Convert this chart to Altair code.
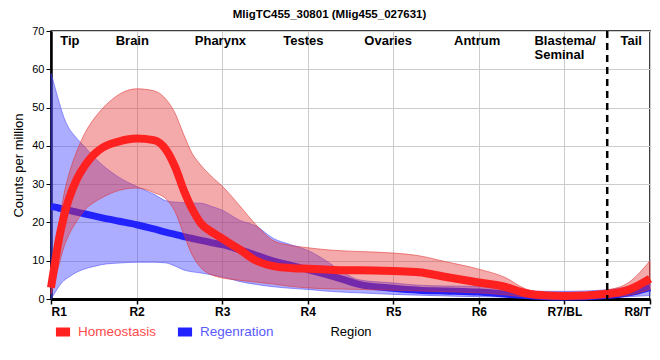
import json
import altair as alt
import pandas as pd

chart_title = "MligTC455_30801 (Mlig455_027631)"
region_ticks = [1, 2, 3, 4, 5, 6, 7, 8]
region_tick_labels = ["R1", "R2", "R3", "R4", "R5", "R6", "R7/BL", "R8/T"]
y_ticks = [0, 10, 20, 30, 40, 50, 60, 70]
section_names = ["Tip", "Brain", "Pharynx", "Testes", "Ovaries", "Antrum", "Tail"]
section_x = [1.22, 1.95, 2.98, 3.95, 4.94, 5.98, 7.78]
blastema_text = ["Blastema/\nSeminal"]
blastema_x = [6.65]
boundary_x = [7.5]
series_names = ["Homeostasis", "Regenration"]

x = [1.0, 1.05, 1.1, 1.15, 1.2, 1.3, 1.4, 1.5, 1.6, 1.8, 2.0, 2.2, 2.35, 2.45, 2.55,
     2.65, 2.75, 2.9, 3.0, 3.2, 3.4, 3.6, 3.8, 4.0, 4.2, 4.4, 4.6, 5.0, 5.3, 5.6,
     6.0, 6.3, 6.55, 6.8, 7.0, 7.5, 7.75, 8.0]

homeo_mid = [3.0, 10.0, 16.5, 21.5, 25.5, 31.2, 35.0, 37.7, 39.5, 41.2, 41.9, 41.5, 38.8, 34.5, 28.5,
             23.5, 19.8, 17.2, 15.8, 13.0, 10.0, 8.6, 8.1, 7.9, 7.7, 7.5, 7.5, 7.3, 7.0, 5.8,
             4.3, 3.2, 1.5, 0.9, 0.8, 1.3, 2.4, 5.3]
homeo_hi = [4.0, 12.0, 20.5, 27.2, 31.8, 38.5, 43.5, 47.0, 49.7, 53.5, 54.9, 54.4, 52.0, 48.5, 43.0,
            38.0, 35.0, 31.5, 29.5, 24.5, 19.3, 15.2, 14.0, 13.4, 12.9, 12.6, 12.4, 12.0, 11.3, 9.8,
            7.8, 5.7, 2.6, 1.6, 1.5, 2.4, 4.3, 10.0]
homeo_lo = [1.3, 5.0, 9.5, 13.5, 16.3, 20.3, 23.4, 25.2, 26.5, 28.4, 29.0, 27.8, 26.0, 22.8, 17.0,
            11.5, 8.2, 6.1, 5.5, 4.9, 4.4, 3.9, 3.3, 2.9, 2.7, 2.6, 2.5, 2.3, 2.1, 1.9,
            1.6, 1.1, 0.5, 0.3, 0.3, 0.5, 1.0, 2.5]

regen_mid = [24.2, 24.0, 23.7, 23.5, 23.2, 22.7, 22.2, 21.7, 21.2, 20.3, 19.4, 18.3, 17.4, 16.9, 16.3,
             15.8, 15.3, 14.6, 14.2, 12.9, 11.4, 9.9, 8.8, 7.7, 6.5, 5.2, 3.8, 2.8, 2.3, 2.1,
             1.8, 1.3, 0.9, 0.6, 0.5, 0.9, 1.6, 3.0]
regen_hi = [59.0, 55.0, 51.0, 47.5, 45.0, 42.0, 39.6, 37.1, 35.0, 31.7, 29.4, 27.4, 25.6, 25.3, 25.2,
            25.1, 25.0, 24.0, 23.2, 20.6, 19.0, 15.8, 14.2, 12.7, 10.2, 7.2, 5.0, 4.2, 3.6, 3.4,
            3.3, 2.8, 2.2, 2.0, 2.0, 2.4, 3.3, 5.1]
regen_lo = [0.0, 1.8, 3.5, 4.8, 5.6, 7.0, 7.9, 8.5, 9.0, 9.4, 9.6, 9.6, 9.4, 8.6, 7.6,
            7.1, 6.8, 6.2, 5.8, 4.6, 3.8, 3.2, 2.8, 2.5, 2.1, 1.8, 1.6, 1.2, 1.0, 0.8,
            0.6, 0.5, 0.4, 0.3, 0.3, 0.4, 0.6, 0.9]

df_h = pd.DataFrame({"x": x, "mid": homeo_mid, "lo": homeo_lo, "hi": homeo_hi, "series": series_names[0]})
df_r = pd.DataFrame({"x": x, "mid": regen_mid, "lo": regen_lo, "hi": regen_hi, "series": series_names[1]})
df_sec = pd.DataFrame({"x": section_x, "name": section_names})
df_bl = pd.DataFrame({"x": blastema_x, "name": blastema_text})
df_b = pd.DataFrame({"x": boundary_x})

SANS = "Liberation Sans, Arial, sans-serif"

label_expr = json.dumps(region_tick_labels) + "[round(datum.value) - 1]"

xaxis = alt.Axis(values=region_ticks, labelExpr=label_expr, title="Region",
                 labelFont=SANS, labelFontWeight="bold", labelFontSize=12,
                 labelColor="black", titleFont=SANS, titleFontSize=13,
                 titleFontWeight="normal", titleColor="black", titlePadding=8,
                 domainColor="black", domainWidth=3, tickColor="black",
                 tickSize=5, tickWidth=1.5, grid=True, gridColor="#cccccc", gridWidth=1,
                 labelPadding=2)
yaxis = alt.Axis(values=y_ticks, title="Counts per million", labelOverlap=False,
                 labelFont=SANS, labelFontSize=11, labelColor="black",
                 titleFont=SANS, titleFontSize=13, titleFontWeight="normal", titleColor="black",
                 titlePadding=6, domainColor="black", domainWidth=2.5, tickColor="black",
                 tickSize=5, grid=True, gridColor="#cccccc", gridWidth=1, labelPadding=2)
xscale = alt.Scale(domain=[1, 8], nice=False, zero=False)
yscale = alt.Scale(domain=[0, 70], nice=False)

def X():
    return alt.X("x:Q", scale=xscale, axis=xaxis)

def Y(field):
    return alt.Y(field, scale=yscale, axis=yaxis)

color_scale = alt.Scale(domain=series_names, range=["#ff2020", "#2222ff"])
legend = alt.Legend(orient="none", direction="horizontal", legendX=0, legendY=289, title=None,
                    symbolType="stroke", symbolStrokeWidth=9, symbolSize=200,
                    labelFont=SANS, labelFontSize=13.5, columnPadding=2, labelOffset=3,
                    labelColor=alt.ExprRef("datum.label == 'Homeostasis' ? '#ff4a4a' : '#5a5aff'"))

band_r = alt.Chart(df_r).mark_area(interpolate="monotone", fill="#4a4aff", fillOpacity=0.45,
                                   stroke="#3a3aff", strokeWidth=1, strokeOpacity=0.5).encode(
    x=X(), y=Y("lo:Q"), y2="hi:Q")
line_r = alt.Chart(df_r).mark_line(interpolate="monotone", strokeWidth=7).encode(
    x=X(), y=Y("mid:Q"), color=alt.Color("series:N", scale=color_scale, legend=legend))
band_h = alt.Chart(df_h).mark_area(interpolate="monotone", fill="#e53535", fillOpacity=0.42,
                                   stroke="#e03030", strokeWidth=1, strokeOpacity=0.55).encode(
    x=X(), y=Y("lo:Q"), y2="hi:Q")
line_h = alt.Chart(df_h).mark_line(interpolate="monotone", strokeWidth=8).encode(
    x=X(), y=Y("mid:Q"), color=alt.Color("series:N", scale=color_scale, legend=legend))
rule = alt.Chart(df_b).mark_rule(color="black", strokeWidth=2.5, strokeDash=[7, 5]).encode(x=X())
sec = alt.Chart(df_sec).mark_text(font=SANS, fontWeight="bold", fontSize=13, baseline="top",
                                  align="center", color="black").encode(
    x=X(), y=alt.value(4), text="name:N")
bl = alt.Chart(df_bl).mark_text(font=SANS, fontWeight="bold", fontSize=13, baseline="top",
                                align="left", color="black", lineBreak="\n", lineHeight=14).encode(
    x=X(), y=alt.value(4), text="name:N")

chart = alt.layer(band_r, line_r, band_h, line_h, rule, sec, bl).properties(
    width=599, height=268,
    title=alt.TitleParams(chart_title, font=SANS, fontSize=11.5, fontWeight="bold",
                          anchor="middle", frame="group", offset=5, color="black", dx=-21),
    autosize=alt.AutoSizeParams(type="none"),
    padding={"left": 43, "top": 23, "right": 2, "bottom": 46},
).configure_view(stroke="black", strokeWidth=1.5)

chart.save("out.html", embed_options={"renderer": "svg", "actions": False})
